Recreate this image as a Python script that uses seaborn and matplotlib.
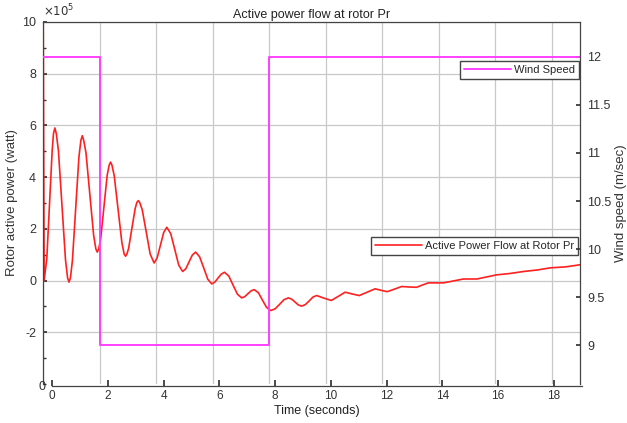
import numpy as np
import seaborn as sns
import matplotlib.pyplot as plt
from matplotlib.ticker import MultipleLocator

# active power flow at rotor Pr (x1e5 watt)
t_power = [0.0, 0.04, 0.135, 0.23, 0.325, 0.37, 0.42, 0.47, 0.545, 0.67, 0.795, 0.87, 0.92,
           0.97, 1.04, 1.155, 1.27, 1.34, 1.39, 1.44, 1.52, 1.655, 1.79, 1.87, 1.92, 1.97, 2.04, 2.155,
           2.27, 2.34, 2.39, 2.44, 2.52, 2.655, 2.79, 2.87, 2.92, 2.97, 3.03, 3.145, 3.26, 3.32, 3.37,
           3.42, 3.51, 3.65, 3.79, 3.93, 4.04, 4.155, 4.27, 4.38, 4.52, 4.66,
           4.80, 4.94, 5.055, 5.17, 5.285, 5.40, 5.54, 5.685, 5.83, 5.97,
           6.08, 6.195, 6.31, 6.42, 6.57, 6.725, 6.88, 7.03, 7.14, 7.25,
           7.36, 7.47, 7.62, 7.765, 7.91, 8.06, 8.215, 8.37, 8.525, 8.68,
           8.80, 8.915, 9.03, 9.15, 9.28, 9.415, 9.55, 9.68, 9.94, 10.2,
           10.45, 10.69, 10.94, 11.19, 11.47, 11.75, 11.97, 12.18, 12.44, 12.69,
           12.96, 13.22, 13.43, 13.63, 14.17, 14.5, 14.87, 15.35, 15.7, 16.05,
           16.5, 17.0, 17.5, 17.94, 18.5, 19.0]
p_power = [12.0, 0.0, 0.86, 2.95, 5.04, 5.68, 5.9, 5.68, 5.03, 2.92, 0.81, 0.10, -0.06,
           0.10, 0.77, 2.77, 4.77, 5.42, 5.6, 5.42, 4.94, 3.35, 1.76, 1.22, 1.1, 1.22, 1.61, 2.84,
           4.07, 4.46, 4.58, 4.46, 4.05, 2.76, 1.47, 1.03, 0.94, 1.03, 1.25, 2.02, 2.78, 3.02, 3.09,
           3.02, 2.74, 1.89, 1.03, 0.68, 0.88, 1.37, 1.86, 2.06, 1.81, 1.21,
           0.60, 0.35, 0.46, 0.73, 0.99, 1.10, 0.92, 0.49, 0.05, -0.13,
           -0.06, 0.10, 0.25, 0.32, 0.18, -0.18, -0.53, -0.67, -0.62, -0.51,
           -0.40, -0.35, -0.47, -0.76, -1.04, -1.16, -1.09, -0.92, -0.74, -0.67,
           -0.72, -0.83, -0.94, -0.99, -0.93, -0.79, -0.64, -0.58, -0.68, -0.77,
           -0.61, -0.45, -0.52, -0.58, -0.45, -0.32, -0.38, -0.43, -0.33, -0.23,
           -0.25, -0.26, -0.17, -0.09, -0.09, -0.02, 0.06, 0.06, 0.14, 0.22,
           0.27, 0.35, 0.41, 0.49, 0.53, 0.61]

# wind speed steps (m/sec)
t_wind = [0.0, 2.0, 8.0, 19.0]
v_wind = [12.0, 9.0, 12.0, 12.0]

power_ticks = [-2, 0, 2, 4, 6, 8, 10]
wind_ticks = [9, 9.5, 10, 10.5, 11, 11.5, 12]
time_ticks = [0, 2, 4, 6, 8, 10, 12, 14, 16, 18]

sns.set_theme(style="white")
plt.rcParams['font.family'] = ['Liberation Sans', 'DejaVu Sans']
plt.rcParams['axes.unicode_minus'] = False
plt.rcParams['font.size'] = 9

fig = plt.figure(figsize=(6.27, 4.23), dpi=100)
ax = fig.add_axes([0.0686, 0.0922, 0.8565, 0.856])

sns.lineplot(x=t_power, y=np.array(p_power) * 1e5, ax=ax, color='#ff2020',
             lw=1.2, label='Active Power Flow at Rotor Pr', sort=False)
ax.set_xlim(0, 19)
ax.set_ylim(-4e5, 10e5)
ax.set_yticks(np.array(power_ticks) * 1e5)
ax.set_yticklabels([str(p) for p in power_ticks])
ax.yaxis.set_minor_locator(MultipleLocator(1e5))
ax.text(0.0, 1.008, r'$\times10^{5}$', transform=ax.transAxes, fontsize=8.5,
        color='#333333', ha='left', va='bottom')
ax.set_xticks(time_ticks)
ax.tick_params(axis='x', direction='in', length=3, labelbottom=False, color='#555555')
ax.tick_params(axis='y', which='both', direction='in', length=3, labelsize=9,
               pad=5, colors='#333333', left=True)
ax.tick_params(axis='y', which='minor', length=2)
ax.grid(True, color='#c8c8c8', lw=0.9)
ax.set_ylabel('Rotor active power (watt)', fontsize=9.5, color='#333333', labelpad=3)
ax.set_title('Active power flow at rotor Pr', fontsize=9, color='#222222', pad=3)
for s in ['left', 'top']:
    ax.spines[s].set_color('#444444')
    ax.spines[s].set_linewidth(0.9)
ax.spines['bottom'].set_visible(False)
ax.spines['right'].set_visible(False)
ax.legend(loc='upper right', bbox_to_anchor=(0.996, 0.406), fancybox=False,
          edgecolor='#444444', framealpha=1, fontsize=8, handlelength=4.2,
          handletextpad=0.3, borderpad=0.35, borderaxespad=0)

ax2 = ax.twinx()
sns.lineplot(x=t_wind, y=v_wind, ax=ax2, color='#ff40ff', lw=1.4,
             drawstyle='steps-post', label='Wind Speed')
ax2.set_ylim(8.6, 12.36)
ax2.set_yticks(wind_ticks)
ax2.set_yticklabels(['%g' % w for w in wind_ticks])
ax2.tick_params(axis='y', direction='in', length=3, pad=5, labelsize=9,
                colors='#333333', right=True)
ax2.set_ylabel('Wind speed (m/sec)', fontsize=9.5, color='#333333', labelpad=3)
for s in ['left', 'top', 'bottom']:
    ax2.spines[s].set_visible(False)
ax2.spines['right'].set_color('#444444')
ax2.spines['right'].set_linewidth(0.9)
ax2.legend(loc='upper right', bbox_to_anchor=(0.998, 0.892), fancybox=False,
           edgecolor='#444444', framealpha=1, fontsize=8, handlelength=4.2,
           handletextpad=0.3, borderpad=0.35, borderaxespad=0)

# offset time axis underneath
ax3 = fig.add_axes([0.0829, 0.0875, 0.845, 0.001])
ax3.patch.set_alpha(0)
ax3.set_xlim(0, 19)
ax3.set_ylim(0, 1)
ax3.set_xticks(time_ticks)
ax3.set_yticks([0])
ax3.tick_params(axis='x', direction='in', length=4, labelsize=8.5, pad=3,
                colors='#333333', bottom=True)
ax3.tick_params(axis='y', length=0, labelsize=9, pad=5, colors='#333333')
ax3.set_xlabel('Time (seconds)', fontsize=9, color='#222222', labelpad=2)
for s in ['left', 'top', 'right']:
    ax3.spines[s].set_visible(False)
ax3.spines['bottom'].set_color('#444444')
ax3.spines['bottom'].set_linewidth(0.9)

fig.savefig('out.png', dpi=100)
